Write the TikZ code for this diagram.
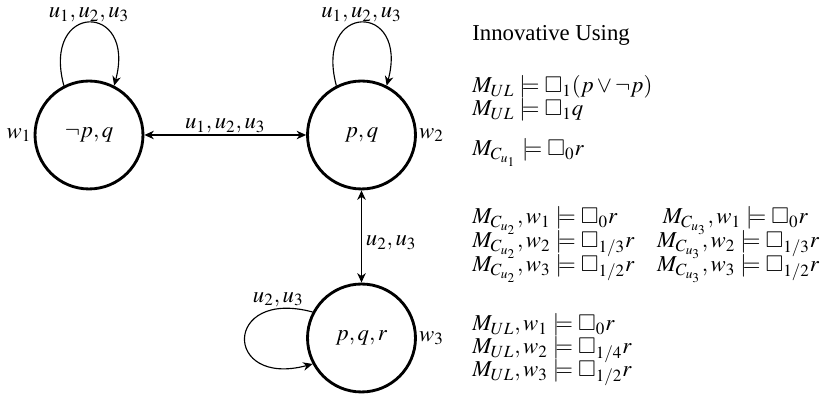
\documentclass[tikz,border=0pt]{standalone}
\usepackage{mathptmx}
\usepackage{amssymb}
\usepackage{fontspec}
\setmainfont{Liberation Serif}
\usetikzlibrary{arrows.meta}
\begin{document}
\begin{tikzpicture}[x=0.5271pt,y=0.5271pt,
  font=\fontsize{12}{14.4}\selectfont,
  world/.style={circle,draw,line width=1.5pt,minimum size=2cm,inner sep=0pt},
  edge/.style={line width=0.6pt,>={Stealth[length=5pt,width=4.5pt,inset=1.6pt]}},
  lab/.style={inner sep=0.8pt},
  looplab/.style={inner sep=0pt},
  txt/.style={anchor=base west,inner sep=0pt}]
\useasboundingbox (0,0) rectangle (824,398);
\node[world,label={[inner sep=1pt]left:$w_1$}] (w1) at (89,263) {$\neg p, q$};
\node[world,label={[inner sep=1pt]right:$w_2$}] (w2) at (361.5,263) {$p, q$};
\node[world,label={[inner sep=1pt]right:$w_3$}] (w3) at (361.5,60) {$p, q, r$};
\draw[edge,->] (w1.117) .. controls +(105:87) and +(75:87) .. (w1.63)
  node[pos=0.5,above,looplab] {$u_1,u_2,u_3$};
\draw[edge,->] (w2.117) .. controls +(105:87) and +(75:87) .. (w2.63)
  node[pos=0.5,above,looplab] {$u_1,u_2,u_3$};
\draw[edge,->] (w3.152) .. controls +(165:93) and +(195:93) .. (w3.208)
  node[pos=0.15,above,lab] {$u_2,u_3$};
\draw[edge,<->] (w1) -- node[above,lab] {$u_1,u_2,u_3$} (w2);
\draw[edge,<->] (w2) -- node[pos=0.57,right,inner sep=2pt] {$u_2,u_3$} (w3);
\node[txt] (t0) at (472,357) {Innovative Using};
\node[txt] (t1) at (472,305) {$M_{UL} \models \Box_1(p \vee \neg p)$};
\node[txt] (t2) at (472,282) {$M_{UL} \models \Box_1 q$};
\node[txt] (t3) at (472,242) {$M_{C_{u_1}} \models \Box_0 r$};
\node[txt] (t4) at (472,174) {$M_{C_{u_2}}, w_1 \models \Box_0 r \qquad M_{C_{u_3}}, w_1 \models \Box_0 r$};
\node[txt] (t5) at (472,150) {$M_{C_{u_2}}, w_2 \models \Box_{1/3} r \quad M_{C_{u_3}}, w_2 \models \Box_{1/3} r$};
\node[txt] (t6) at (472,126) {$M_{C_{u_2}}, w_3 \models \Box_{1/2} r \quad M_{C_{u_3}}, w_3 \models \Box_{1/2} r$};
\node[txt] (t7) at (472,67) {$M_{UL}, w_1 \models \Box_0 r$};
\node[txt] (t8) at (472,44) {$M_{UL}, w_2 \models \Box_{1/4} r$};
\node[txt] (t9) at (472,21) {$M_{UL}, w_3 \models \Box_{1/2} r$};
\end{tikzpicture}
\end{document}
